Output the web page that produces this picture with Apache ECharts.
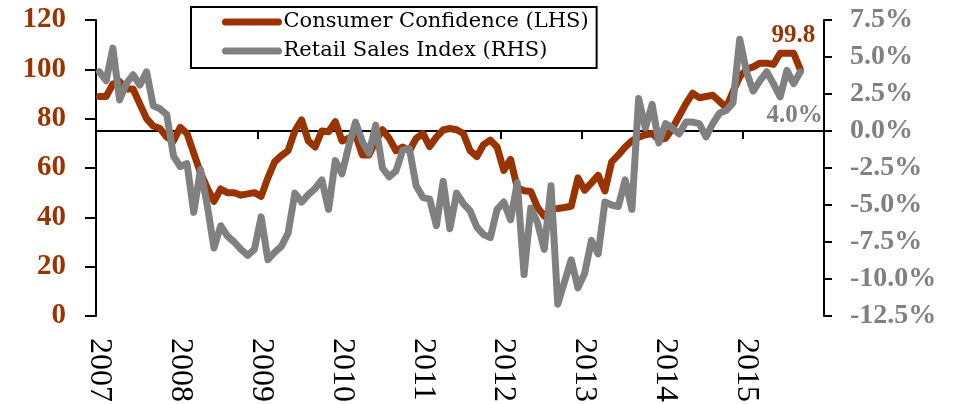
<!DOCTYPE html>
<html>
<head>
<meta charset="utf-8">
<script src="https://cdn.jsdelivr.net/npm/echarts@6/dist/echarts.min.js"></script>
<style>
  html, body { margin: 0; padding: 0; background: #fff; }
  #chart { width: 959px; height: 404px; }
</style>
</head>
<body>
<div id="chart"></div>
<script>
// years on the x axis, one category per month
var years = ['2007', '2008', '2009', '2010', '2011', '2012', '2013', '2014', '2015'];

// consumer confidence, monthly from Jan 2007 (LHS)
var confidence = [89, 89, 94, 95, 92, 92, 86, 80, 77, 76,
    72.5, 71, 76.5, 74, 66, 58, 52, 46.5, 51.5, 50,
    50, 49, 49.5, 50, 48.5, 56, 62.5, 65, 67, 75,
    79.5, 71, 68.5, 75, 74.7, 78.8, 71, 72, 73.5, 65.3,
    65.3, 71, 75.5, 72, 67, 68.5, 67, 72, 74, 68.7,
    72.5, 75.4, 76, 75.5, 74, 67, 64.6, 69.5, 71.3, 68.5,
    59, 63.5, 52, 50.8, 50.5, 44, 40.5, 43.5, 43.6, 44,
    44.5, 56, 51, 54, 57, 50.7, 62.5, 65.3, 68.5, 71,
    72.5, 73.5, 74, 71.5, 72, 76, 81, 86, 90.3, 88.5,
    89, 89.5, 87, 84.5, 91, 97, 100, 101, 102.5, 102.5,
    102, 106.5, 106.5, 106.5, 99.8];

// retail sales index y/y %, monthly from Jan 2007 (RHS)
var retail = [4.0, 3.4, 5.6, 2.1, 3.2, 3.8, 3.1, 4.0, 1.7, 1.5,
    1.1, -1.7, -2.4, -2.2, -5.5, -2.6, -5.0, -7.9, -6.4, -7.1,
    -7.5, -8.0, -8.4, -8.0, -5.8, -8.7, -8.2, -7.8, -6.9, -4.2,
    -4.8, -4.3, -3.9, -3.3, -5.3, -2.0, -2.9, -1.0, 0.6, -0.7,
    -1.5, 0.4, -2.5, -3.1, -2.7, -1.3, -1.2, -3.7, -4.5, -4.6,
    -6.4, -3.4, -6.6, -4.2, -4.9, -5.4, -6.5, -7.0, -7.2, -5.3,
    -4.8, -6.0, -3.5, -9.7, -5.2, -6.2, -8.0, -3.7, -11.7, -10.2,
    -8.7, -10.6, -9.6, -7.4, -8.3, -4.8, -5.0, -5.1, -3.3, -5.3,
    2.2, 0.2, 1.8, -0.8, 0.5, 0.2, -0.2, 0.6, 0.6, 0.5,
    -0.4, 0.5, 1.2, 1.4, 1.9, 6.2, 4.0, 2.7, 3.4, 4.0,
    3.2, 2.3, 4.1, 3.2, 4.0];

var brown = '#993300';
var grey = '#808080';

var months = [];
for (var i = 0; i < years.length; i++) {
    for (var m = 1; m <= 12; m++) {
        months.push(years[i] + '-' + (m < 10 ? '0' + m : m));
    }
}

function lastValue(p) {
    var v = p.value;
    if (Array.isArray(v)) v = v[v.length - 1];
    return Number(v);
}

var myChart = echarts.init(document.getElementById('chart'), null, { renderer: 'canvas' });

var option = {
    animation: false,
    backgroundColor: '#fff',
    grid: {
        left: 96, right: 135, top: 20, bottom: 88,
        containLabel: false,
        outerBoundsMode: 'none'
    },
    legend: {
        orient: 'vertical',
        left: 191,
        top: 7,
        padding: [3, 8, 5, 31],
        itemGap: 5,
        itemWidth: 53,
        itemHeight: 7,
        borderColor: '#000',
        borderWidth: 2,
        borderRadius: 0,
        lineStyle: { width: 7, cap: 'round' },
        textStyle: {
            fontFamily: 'DejaVu Serif',
            fontSize: 21,
            lineHeight: 24,
            color: '#000'
        },
        data: ['Consumer Confidence (LHS)', 'Retail Sales Index (RHS)']
    },
    xAxis: [
        {
            type: 'category',
            data: months,
            boundaryGap: true,
            axisLine: { show: false, onZero: false },
            axisTick: { show: false },
            splitLine: { show: false },
            axisLabel: {
                interval: 11,
                rotate: -90,
                margin: 22,
                color: '#000',
                fontFamily: 'Liberation Serif',
                fontSize: 32,
                formatter: function (v) { return v.slice(0, 4); }
            }
        },
        {
            // the zero line of the RHS with year ticks
            type: 'category',
            data: months,
            boundaryGap: true,
            position: 'bottom',
            axisLine: {
                show: true,
                onZero: true,
                onZeroAxisIndex: 1,
                lineStyle: { color: '#000', width: 2 }
            },
            axisTick: {
                show: true,
                interval: 11,
                length: 8,
                lineStyle: { color: '#000', width: 2 }
            },
            axisLabel: { show: false },
            splitLine: { show: false }
        }
    ],
    yAxis: [
        {
            type: 'value',
            position: 'left',
            min: 0,
            max: 120,
            interval: 20,
            splitLine: { show: false },
            axisLine: { show: true, lineStyle: { color: '#000', width: 2 } },
            axisTick: { show: true, length: 11, lineStyle: { color: '#000', width: 2 } },
            axisLabel: {
                margin: 30,
                color: brown,
                fontFamily: 'Liberation Serif',
                fontWeight: 'bold',
                fontSize: 29
            }
        },
        {
            type: 'value',
            position: 'right',
            min: -12.5,
            max: 7.5,
            interval: 2.5,
            splitLine: { show: false },
            axisLine: { show: true, onZero: false, lineStyle: { color: '#000', width: 2 } },
            axisTick: { show: true, length: 8, lineStyle: { color: '#000', width: 2 } },
            axisLabel: {
                margin: 26,
                align: 'left',
                color: grey,
                fontFamily: 'Liberation Serif',
                fontWeight: 'bold',
                fontSize: 28,
                formatter: function (v) { return v.toFixed(1) + '%'; }
            }
        }
    ],
    series: [
        {
            name: 'Consumer Confidence (LHS)',
            type: 'line',
            xAxisIndex: 0,
            yAxisIndex: 0,
            symbol: 'none',
            color: brown,
            lineStyle: { color: brown, width: 7, join: 'round', cap: 'round' },
            endLabel: {
                show: true,
                offset: [-37, -34],
                color: brown,
                fontFamily: 'Liberation Serif',
                fontWeight: 'bold',
                fontSize: 25,
                formatter: function (p) { return lastValue(p).toFixed(1); }
            },
            data: confidence
        },
        {
            name: 'Retail Sales Index (RHS)',
            type: 'line',
            xAxisIndex: 0,
            yAxisIndex: 1,
            symbol: 'none',
            color: grey,
            lineStyle: { color: grey, width: 7, join: 'round', cap: 'round' },
            endLabel: {
                show: true,
                offset: [-42, 44],
                color: grey,
                fontFamily: 'Liberation Serif',
                fontWeight: 'bold',
                fontSize: 25,
                formatter: function (p) { return lastValue(p).toFixed(1) + '%'; }
            },
            data: retail
        }
    ]
};

myChart.setOption(option);
</script>
</body>
</html>
